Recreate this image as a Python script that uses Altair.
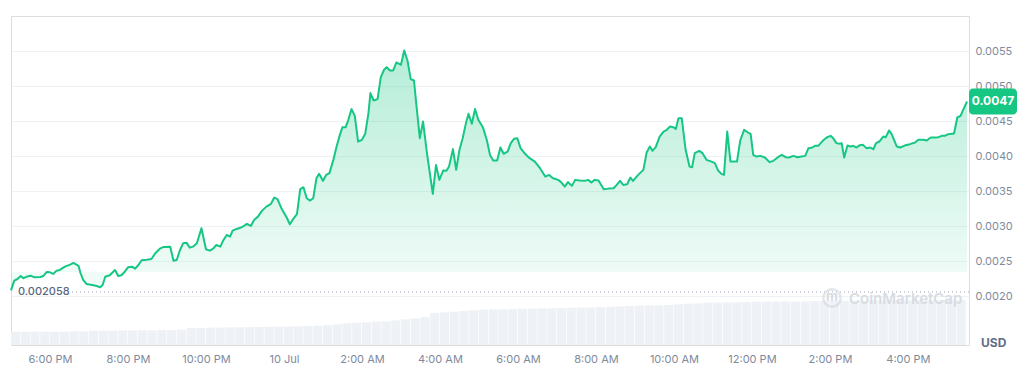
import altair as alt
import pandas as pd

START = pd.Timestamp("2023-07-09 17:00")

# ---- price series: minutes after 17:00 (9 Jul) and price in USD ----
m_evening = [0, 5, 10, 15, 19, 24, 30, 36, 45, 50, 55, 60, 65, 70, 75, 83, 91, 96, 104, 107,
             111, 116, 127, 132, 137, 141, 145, 152, 160, 165, 170, 175, 180, 186, 191, 196, 201, 209, 216, 222,
             229, 235, 245]
p_evening = [0.00208, 0.002219, 0.002243, 0.002286, 0.002253, 0.002276, 0.00229, 0.002267, 0.002272, 0.002286,
             0.002343, 0.002339, 0.002315, 0.002362, 0.002372, 0.002419, 0.002448, 0.002472, 0.002429, 0.002325,
             0.002229, 0.002172, 0.002153, 0.002143, 0.002124, 0.002157, 0.002276, 0.002296, 0.002372, 0.002286,
             0.002296, 0.002347, 0.00241, 0.002419, 0.00239, 0.002443, 0.002511, 0.002519, 0.002529, 0.002611,
             0.002676, 0.002701, 0.002705]

m_night = [250, 255, 260, 265, 270, 275, 280, 286, 293, 300, 306, 311, 316, 322, 327, 332, 337, 341, 347, 355,
           363, 369, 374, 380, 386, 393, 400, 405, 410, 416, 424, 429, 434, 440, 445, 450, 455, 460, 465, 470,
           474, 480, 485, 490, 496, 501, 506, 510, 515, 519, 524, 529, 534, 540, 545, 550, 553, 558, 564, 569,
           574, 578, 583, 588, 593, 600, 605, 610, 615, 620, 624, 629, 634, 640, 649, 654, 659, 665, 670, 674,
           680, 685, 690, 695, 700, 704, 709, 714, 719, 726, 732]
p_night = [0.002505, 0.002515, 0.002658, 0.002754, 0.002762, 0.002691, 0.002705, 0.002754, 0.002968, 0.002668,
           0.002648, 0.002676, 0.002729, 0.002705, 0.002801, 0.002872, 0.002848, 0.002934, 0.002958, 0.002982,
           0.00303, 0.003001, 0.003087, 0.003134, 0.003216, 0.003277, 0.003316, 0.003406, 0.003383, 0.003254,
           0.003125, 0.003025, 0.003097, 0.003168, 0.003526, 0.003554, 0.003397, 0.003363, 0.003397, 0.003683,
           0.003745, 0.003645, 0.00373, 0.003755, 0.003945, 0.004135, 0.004302, 0.004412, 0.004412, 0.004517,
           0.00467, 0.004574, 0.004207, 0.004231, 0.004317, 0.004613, 0.004899, 0.004793, 0.004813, 0.005127,
           0.005232, 0.00527, 0.005222, 0.005222, 0.005336, 0.005303, 0.005508, 0.005365, 0.005099, 0.005079,
           0.004707, 0.004255, 0.004492, 0.004041, 0.003459, 0.003873, 0.003659, 0.003792, 0.003788, 0.003849,
           0.004098, 0.003802, 0.004088, 0.004255, 0.00447, 0.004603, 0.00446, 0.00467, 0.004517, 0.004412,
           0.004231]

m_morning = [737, 742, 748, 753, 758, 764, 769, 774, 779, 784, 791, 798, 806, 814, 822, 828, 834, 842, 847, 852,
             857, 863, 868, 875, 883, 888, 893, 898, 904, 912, 919, 927, 932, 937, 942, 948, 953, 957, 965, 973,
             978, 983]
p_morning = [0.004016, 0.003935, 0.003935, 0.004121, 0.004031, 0.004063, 0.004184, 0.004245, 0.004255, 0.004112,
             0.004031, 0.003969, 0.00392, 0.003826, 0.003706, 0.00373, 0.003683, 0.003659, 0.00362, 0.003563,
             0.003626, 0.003573, 0.003659, 0.003649, 0.003645, 0.003659, 0.00362, 0.003659, 0.003649, 0.003526,
             0.003534, 0.00354, 0.003587, 0.003645, 0.003587, 0.003597, 0.003692, 0.003645, 0.00373, 0.003802,
             0.004049, 0.004135]

m_midday = [987, 992, 998, 1004, 1009, 1014, 1019, 1023, 1027, 1032, 1038, 1044, 1048, 1052, 1059, 1064, 1070, 1078, 1083, 1088,
            1093, 1097, 1102, 1107, 1117, 1122, 1128, 1134, 1138, 1142, 1147, 1153, 1160, 1167, 1173, 1180, 1186, 1192, 1197, 1204,
            1210, 1216, 1222, 1227]
p_midday = [0.004074, 0.004126, 0.004278, 0.004349, 0.004374, 0.004421, 0.004412, 0.004388, 0.004541, 0.004541,
            0.004088, 0.003849, 0.00384, 0.004041, 0.004074, 0.004041, 0.003945, 0.00392, 0.003898, 0.003792,
            0.003745, 0.00373, 0.004349, 0.00392, 0.00392, 0.004221, 0.004374, 0.004335, 0.004317, 0.004016,
            0.003992, 0.004002, 0.003978, 0.003912, 0.003931, 0.003983, 0.004016, 0.003983, 0.003978, 0.004002,
            0.003983, 0.003992, 0.004002, 0.004112]

m_afternoon = [1233, 1237, 1242, 1249, 1255, 1261, 1265, 1270, 1275, 1278, 1282, 1287, 1292, 1296, 1301, 1306, 1311, 1316, 1322, 1327,
               1331, 1336, 1342, 1346, 1351, 1355, 1363, 1368, 1375, 1383, 1391, 1396, 1404, 1409, 1415, 1422, 1427, 1432, 1437, 1442,
               1451, 1456, 1461, 1465, 1471]
p_afternoon = [0.004121, 0.004145, 0.004145, 0.004217, 0.004264, 0.004288, 0.004255, 0.004184, 0.004174, 0.004184,
               0.003978, 0.004149, 0.004135, 0.004145, 0.004121, 0.004155, 0.004159, 0.004112, 0.004121, 0.004098,
               0.004184, 0.004207, 0.004278, 0.004269, 0.004364, 0.004312, 0.004135, 0.004121, 0.004149, 0.004169,
               0.004193, 0.004231, 0.004231, 0.004221, 0.004264, 0.004264, 0.004269, 0.004288, 0.004288, 0.004312,
               0.004321, 0.00455, 0.004574, 0.00466, 0.004779]

# ---- volume bars (thousand USD), one per 15 minutes from 17:00 ----
volume_k = [40, 40, 40, 40, 40, 40, 41, 41, 43, 43, 43, 44, 44, 44, 44, 45, 45, 46, 51, 51,
            52, 52, 53, 53, 54, 54, 55, 55, 56, 56, 57, 58, 60, 62, 65, 67, 68, 70, 71, 74,
            77, 80, 84, 96, 98, 100, 102, 104, 106, 107, 107, 108, 109, 109, 110, 110, 111, 112, 112, 113,
            114, 115, 116, 117, 118, 119, 119, 120, 122, 124, 125, 127, 127, 128, 128, 129, 130, 130, 130, 131,
            131, 131, 132, 132, 132, 133, 133, 133, 134, 134, 134, 134, 134, 134, 135, 135, 135, 135]

ref_price = [0.002058]
ref_label = ["0.002058"]
current_label = ["0.0047"]
y_ticks = [0.002, 0.0025, 0.003, 0.0035, 0.004, 0.0045, 0.005, 0.0055]

# ---- tables ----
minutes = m_evening + m_night + m_morning + m_midday + m_afternoon
prices = p_evening + p_night + p_morning + p_midday + p_afternoon
fmt = "%Y-%m-%dT%H:%M:%S"
price_df = pd.DataFrame({
    "time": (START + pd.to_timedelta(minutes, unit="m")).strftime(fmt),
    "price": prices,
})
vol_start = START + pd.to_timedelta([15 * i for i in range(len(volume_k))], unit="m")
vol_df = pd.DataFrame({
    "t": vol_start.strftime(fmt),
    "t2": (vol_start + pd.Timedelta(minutes=14)).strftime(fmt),
    "vol": volume_k,
})
ref_df = pd.DataFrame({"price": ref_price, "label": ref_label})
last_df = pd.DataFrame({"price": [prices[-1]], "label": current_label})
mark_df = pd.DataFrame({"name": ["CoinMarketCap"], "unit": ["USD"]})

GREEN = "#16c784"
LABEL = "#808a9d"
FONT = "Inter"

x_scale = alt.Scale(domain=[alt.DateTime(year=2023, month=7, date=9, hours=17),
                            alt.DateTime(year=2023, month=7, date=10, hours=17, minutes=34)],
                    padding=0)
tick_vals = ([alt.DateTime(year=2023, month=7, date=9, hours=h) for h in (18, 20, 22)] +
             [alt.DateTime(year=2023, month=7, date=10, hours=h) for h in range(0, 17, 2)])
x_axis = alt.Axis(values=tick_vals, grid=False, domain=False, ticks=False, labelPadding=8,
                  labelFont=FONT, labelFontSize=11, labelColor=LABEL, title="",
                  labelExpr="hours(datum.value) == 0 ? timeFormat(datum.value, '%-d %b') : timeFormat(datum.value, '%-I:%M %p')")
y_axis = alt.Axis(orient="right", values=y_ticks, format=".4f", grid=True, gridColor="#eff2f5",
                  domain=False, ticks=False, labelPadding=6, labelFont=FONT, labelFontSize=11,
                  labelColor=LABEL, title="")


def yscale():
    return alt.Scale(domain=[0.0013, 0.0060], nice=False, zero=False)


def xenc(field):
    return alt.X(field, scale=x_scale, axis=x_axis)


vol = alt.Chart(vol_df).mark_bar(color="#eef1f5", orient="vertical").encode(
    x=xenc("t:T"),
    x2="t2:T",
    y=alt.Y("vol:Q", scale=alt.Scale(domain=[0, 987]), axis=None),
    y2=alt.Y2(datum=0),
)

area = alt.Chart(price_df).mark_area(
    color=alt.Gradient(gradient="linear", x1=1, x2=1, y1=1, y2=0,
                       stops=[alt.GradientStop(color="rgba(22,199,132,0.05)", offset=0),
                              alt.GradientStop(color="rgba(22,199,132,0.32)", offset=1)]),
).encode(
    x=xenc("time:T"),
    y=alt.Y("price:Q", scale=yscale(), axis=y_axis),
    y2=alt.Y2(datum=0.00234),
)

line = alt.Chart(price_df).mark_line(color=GREEN, strokeWidth=2, strokeJoin="round").encode(
    x=xenc("time:T"),
    y=alt.Y("price:Q", scale=yscale(), axis=None),
)

ref_rule = alt.Chart(ref_df).mark_rule(color="#a1a7bb", strokeDash=[1, 3], strokeWidth=1).encode(
    x=alt.value(61), x2=alt.value(958),
    y=alt.Y("price:Q", scale=yscale(), axis=None),
)
ref_text = alt.Chart(ref_df).mark_text(align="left", baseline="middle", font=FONT, fontSize=11,
                                       fontWeight=500, color="#58667e").encode(
    x=alt.value(7),
    y=alt.Y("price:Q", scale=yscale(), axis=None),
    text="label:N",
)

tag = alt.Chart(last_df).mark_rect(color=GREEN, cornerRadius=4).transform_calculate(
    top="datum.price + 0.000186", bottom="datum.price - 0.000186"
).encode(
    x=alt.value(958), x2=alt.value(1006),
    y=alt.Y("top:Q", scale=yscale(), axis=None),
    y2="bottom:Q",
)
tag_text = alt.Chart(last_df).mark_text(align="center", baseline="middle", font=FONT, fontSize=12,
                                        fontWeight=700, color="white").encode(
    x=alt.value(982),
    y=alt.Y("price:Q", scale=yscale(), axis=None),
    text="label:N",
)

usd = alt.Chart(mark_df).mark_text(align="left", baseline="middle", font=FONT, fontSize=12,
                                   fontWeight=700, color="#616e85").encode(
    x=alt.value(970), y=alt.value(327), text="unit:N")
logo = alt.Chart(mark_df).mark_point(shape="circle", filled=False, size=300, strokeWidth=2.5,
                                     color="#d8dce3").encode(x=alt.value(821), y=alt.value(282))
logo_m = alt.Chart(mark_df).mark_text(text="m", align="center", baseline="middle", font=FONT,
                                      fontSize=13, fontWeight=700, color="#d8dce3").encode(
    x=alt.value(821), y=alt.value(281))
wm = alt.Chart(mark_df).mark_text(align="left", baseline="middle", font=FONT, fontSize=15,
                                  fontWeight=600, color="#d8dce3").encode(
    x=alt.value(838), y=alt.value(283), text="name:N")

chart = alt.layer(
    vol, area, line, ref_rule, ref_text, wm, logo, logo_m, tag, tag_text, usd
).resolve_scale(y="independent").properties(
    width=958, height=329,
    padding={"left": 11, "top": 16, "right": 55, "bottom": 32},
    autosize=alt.AutoSizeParams(type="none"),
).configure_view(stroke="#eef0f3").configure(background="white")

chart.save("out.html", embed_options={"renderer": "svg", "actions": False})
